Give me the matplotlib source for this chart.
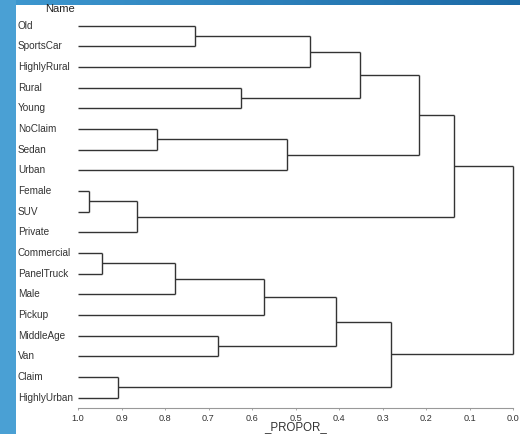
import numpy as np
import matplotlib
matplotlib.use("Agg")
import matplotlib.pyplot as plt
from matplotlib.transforms import blended_transform_factory

plt.rcParams["font.family"] = ["Liberation Sans", "DejaVu Sans"]

# Leaf variables, top to bottom
leaves = ["Old", "SportsCar", "HighlyRural", "Rural", "Young", "NoClaim",
          "Sedan", "Urban", "Female", "SUV", "Private", "Commercial",
          "PanelTruck", "Male", "Pickup", "MiddleAge", "Van", "Claim",
          "HighlyUrban"]

# Cluster joins: (left member, right member, proportion of variance explained)
join_names = ["CL1", "CL2", "CL3", "CL4", "CL5", "CL6", "CL7", "CL8", "CL9",
              "CL10", "CL11", "CL12", "CL13", "CL14", "CL15", "CL16", "CL17",
              "CL18"]
join_left = ["Old", "CL1", "Rural", "CL2", "NoClaim", "CL5", "CL4", "Female",
             "CL8", "CL7", "Commercial", "CL11", "CL12", "MiddleAge", "CL13",
             "Claim", "CL15", "CL10"]
join_right = ["SportsCar", "HighlyRural", "Young", "CL3", "Sedan", "Urban",
              "CL6", "SUV", "Private", "CL9", "PanelTruck", "Male", "Pickup",
              "Van", "CL14", "HighlyUrban", "CL16", "CL17"]
join_propor = [0.730, 0.467, 0.625, 0.352, 0.818, 0.520, 0.216, 0.975,
               0.864, 0.136, 0.944, 0.778, 0.572, 0.679, 0.407, 0.907,
               0.281, 0.000]

xticks = [1.0, 0.9, 0.8, 0.7, 0.6, 0.5, 0.4, 0.3, 0.2, 0.1, 0.0]
xticklabels = ["1.0", "0.9", "0.8", "0.7", "0.6", "0.5", "0.4", "0.3", "0.2",
               "0.1", "0.0"]

W, H = 520, 434
fig = plt.figure(figsize=(W / 100, H / 100), dpi=100)

# Blue frame behind the white panel
bg = fig.add_axes([0, 0, 1, 1], zorder=-10)
bg.set_axis_off()
grad = np.zeros((H, W, 3))
t = np.linspace(0, 1, W)
top_l = np.array([62, 152, 208]) / 255
top_r = np.array([28, 106, 166]) / 255
grad[:, :, :] = 1.0
grad[:5, :, :] = (top_l[None, :] * (1 - t[:, None]) + top_r[None, :] * t[:, None])[None, :, :]
grad[:, :16, :] = np.array([74, 160, 212]) / 255
bg.imshow(grad, aspect="auto", extent=[0, W, H, 0], interpolation="bilinear")
bg.set_xlim(0, W)
bg.set_ylim(H, 0)

# Dendrogram axes
x0, x1 = 78, 513
y_top, y_axis = 16, 408.3
row0, row_step = 25.7, 20.67
ax = fig.add_axes([x0 / W, 1 - y_axis / H, (x1 - x0) / W, (y_axis - y_top) / H])
ax.set_facecolor("none")
ax.set_xlim(1.0, 0.0)
ax.set_ylim((y_axis - row0) / row_step, (y_top - row0) / row_step)

pos = {name: (1.0, float(i)) for i, name in enumerate(leaves)}
line_kw = dict(color="#333333", lw=1.0, solid_capstyle="butt", clip_on=False)
for name, a, b, h in zip(join_names, join_left, join_right, join_propor):
    xa, ya = pos[a]
    xb, yb = pos[b]
    ax.plot([xa, h], [ya, ya], **line_kw)
    ax.plot([xb, h], [yb, yb], **line_kw)
    ax.plot([h, h], [ya, yb], **line_kw)
    pos[name] = (h, (ya + yb) / 2)

for s in ["top", "right", "left"]:
    ax.spines[s].set_visible(False)
ax.spines["bottom"].set_color("#999999")
ax.spines["bottom"].set_linewidth(0.8)
ax.set_yticks([])
ax.set_xticks(xticks)
ax.set_xticklabels(xticklabels, fontsize=6.6)
ax.tick_params(axis="x", direction="out", length=1.5, width=0.6,
               color="#999999", labelcolor="#333333", pad=2.6)

tr = blended_transform_factory(fig.transFigure, ax.transData)
for i, name in enumerate(leaves):
    ax.text(18 / W, i, name, transform=tr, ha="left", va="center",
            fontsize=7.2, color="#333333")

fig.text(60 / W, 1 - 8.6 / H, "Name", ha="center", va="center",
         fontsize=8, color="#222222")
fig.text(295.5 / W, 1 - 430.5 / H, "_PROPOR_", ha="center", va="baseline",
         fontsize=8.3, color="#333333")

fig.savefig("out.png", dpi=100)
